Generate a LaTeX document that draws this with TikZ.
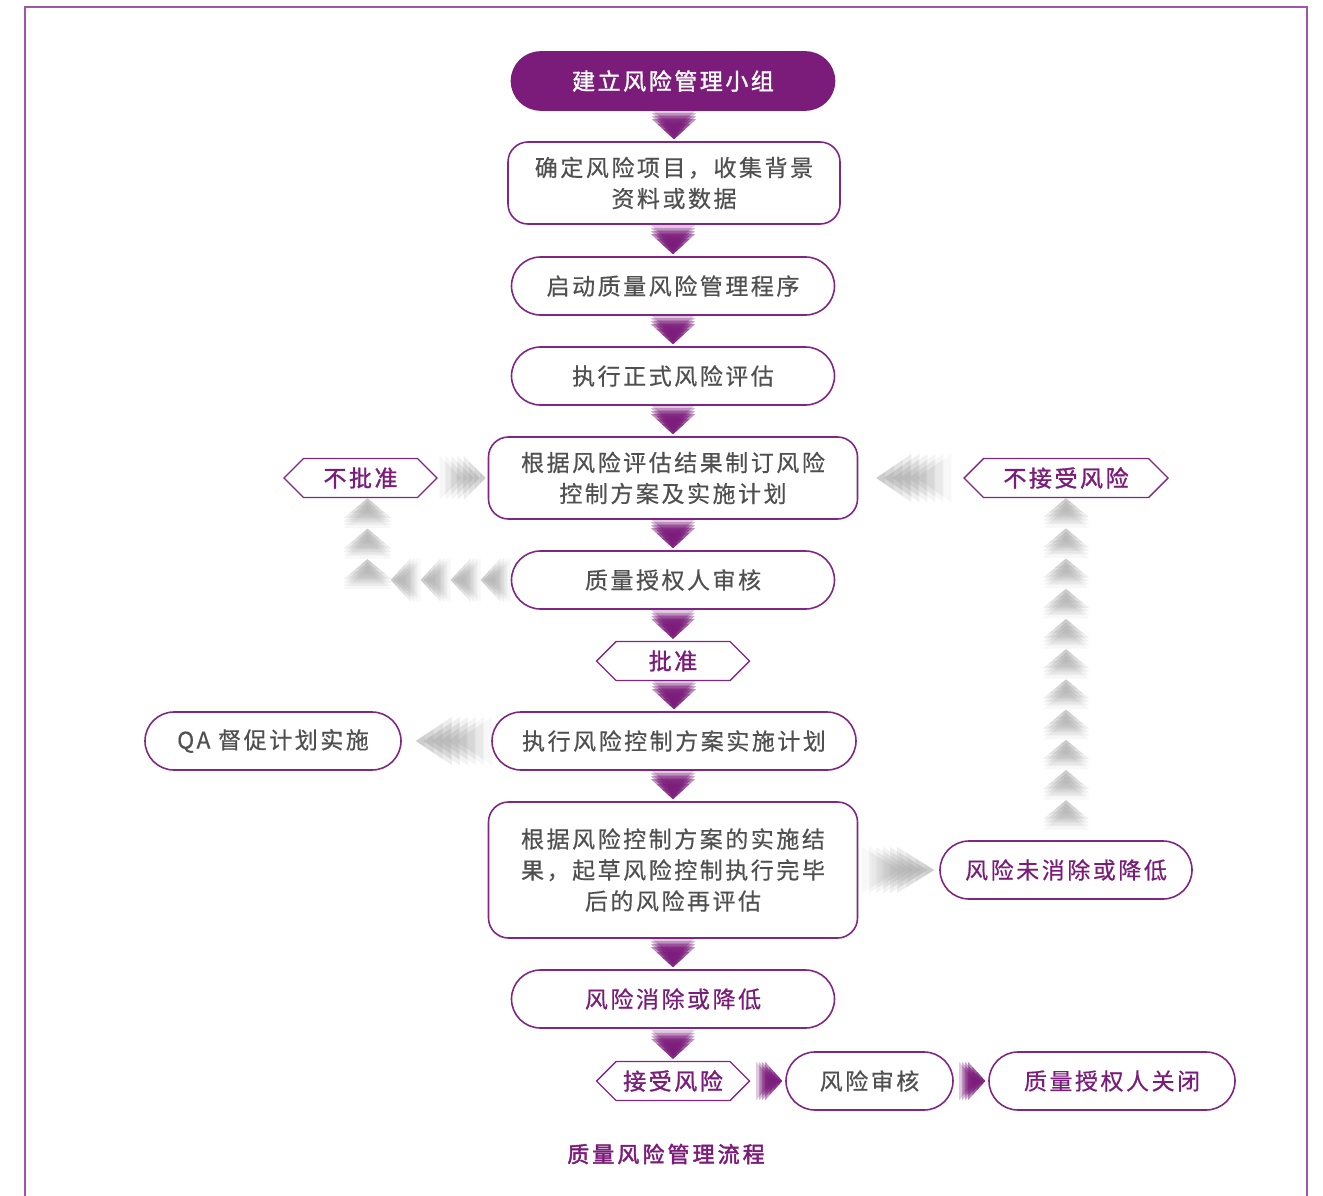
\documentclass[tikz,border=0pt]{standalone}
\usepackage{fontspec}
\setmainfont{Noto Sans CJK SC}
\newfontfamily\cjk[LetterSpace=11,FakeBold=0.5]{Noto Sans CJK SC}
\newfontfamily\cjkb[LetterSpace=11,FakeBold=1.3]{Noto Sans CJK SC}
\newfontfamily\cjkcap[LetterSpace=14,FakeBold=2]{Noto Sans CJK SC}
\usetikzlibrary{shapes.symbols,calc}
\definecolor{pur}{RGB}{123,28,123}
\definecolor{pline}{RGB}{128,38,133}
\definecolor{framec}{RGB}{160,85,170}
\definecolor{txt}{RGB}{80,80,80}
\definecolor{chg}{RGB}{175,175,175}

% #1 tip coordinate, #2 rotation (0 = pointing down), #3 colour, #4 copies,
% #5 shift between copies, #6 length, #7 half width, #8 front opacity
\newcommand\chev[8]{%
 \begin{scope}[shift={#1},rotate=#2]
  \foreach \k in {1,...,#4}{
   \pgfmathsetmacro\off{(#4-\k)*#5}
   \pgfmathsetmacro\al{#8*(0.3+0.7*\k/#4)}
   \foreach \f in {1,0.75,0.5,0.25}{
     \fill[#3,fill opacity=\al] (0,-\off) -- ({-#7*\f},{-\off-#6*\f}) -- ({#7*\f},{-\off-#6*\f}) -- cycle;
   }
  }
 \end{scope}}

\tikzset{
 lbl/.style={font=\cjk\fontsize{23}{31}\selectfont, align=center, inner sep=0pt},
 stadium/.style={lbl, draw=pline, line width=1.6pt, rounded corners=29pt, fill=white,
   minimum height=58pt, text=txt},
 rbox/.style={lbl, draw=pline, line width=1.6pt, rounded corners=20pt, fill=white, text=txt},
 hexa/.style={lbl, font=\cjkb\fontsize{23}{31}\selectfont, shape=signal, signal to=west and east,
   draw=pline, line width=1.4pt, fill=white, minimum height=39pt, text=pur},
}

\begin{document}
\begin{tikzpicture}[x=1pt,y=-1pt]
\useasboundingbox (0,0) rectangle (1323,1196);
\draw[framec, line width=2.5pt] (25,1196) -- (25,7) -- (1307,7) -- (1307,1196);

% main column
\node[stadium, fill=pur, draw=pur, text=white, font=\cjkb\fontsize{23}{31}\selectfont, minimum width=323pt] (n1) at (673,81) {建立风险管理小组};
\node[rbox, minimum width=332pt, minimum height=82pt] (n2) at (674,183) {确定风险项目，收集背景\\资料或数据};
\node[stadium, minimum width=323pt] (n3) at (673,286) {启动质量风险管理程序};
\node[stadium, minimum width=323pt] (n4) at (673,376) {执行正式风险评估};
\node[rbox, minimum width=369pt, minimum height=82pt] (n5) at (673,478) {根据风险评估结果制订风险\\控制方案及实施计划};
\node[stadium, minimum width=323pt] (n6) at (673,580) {质量授权人审核};
\node[hexa, minimum width=153pt] (ok) at (673,661) {批准};
\node[stadium, minimum width=364pt] (n8) at (674,741) {执行风险控制方案实施计划};
\node[rbox, minimum width=369pt, minimum height=136pt] (n9) at (673,870) {根据风险控制方案的实施结\\果，起草风险控制执行完毕\\后的风险再评估};
\node[stadium, minimum width=323pt, text=pur] (n10) at (673,999) {风险消除或降低};
\node[hexa, minimum width=153pt] (acc) at (673,1081) {接受风险};
\node[stadium, minimum width=167pt] (rev) at (869.5,1081) {风险审核};
\node[stadium, minimum width=246pt, text=pur] (cls) at (1112,1081) {质量授权人关闭};

% side nodes
\node[hexa, minimum width=153pt] (no) at (360.5,478) {不批准};
\node[hexa, minimum width=204pt] (rej) at (1066,478) {不接受风险};
\node[stadium, minimum width=256pt] (qa) at (273,741) {QA 督促计划实施};
\node[stadium, minimum width=252pt, text=pur] (nr) at (1066,870) {风险未消除或降低};

\node[font=\cjkcap\fontsize{22}{22}\selectfont, text=pur, inner sep=0pt] (cap) at (666,1154) {质量风险管理流程};

% purple down chevrons
\foreach \b in {n2,n3,n4,n5,n6,ok,n8,n9,n10,acc}{
  \coordinate (t) at ($(\b.north)+(0,-2)$);
  \chev{(t)}{0}{pur}{4}{3}{20}{22}{0.5}
}
% purple right chevrons
\foreach \b in {rev,cls}{
  \coordinate (t) at ($(\b.west)+(-3,0)$);
  \chev{(t)}{90}{pur}{4}{3}{17}{19}{0.5}
}

% grey chevrons
\coordinate (ta) at ($(n5.west)+(-2,0)$);
\chev{(ta)}{90}{chg}{5}{6}{22}{22}{0.22}
\coordinate (tb) at ($(n5.east)+(18,0)$);
\chev{(tb)}{-90}{chg}{6}{8}{35}{24}{0.22}
\coordinate (tc) at ($(qa.east)+(14,0)$);
\chev{(tc)}{-90}{chg}{6}{8}{36}{24}{0.22}
\coordinate (td) at ($(nr.west)+(-5,0)$);
\chev{(td)}{90}{chg}{6}{7}{37}{23}{0.22}
\foreach \i in {0,...,10}{
  \coordinate (t) at ($(rej.south)+(0,30.2*\i)$);
  \chev{(t)}{180}{chg}{4}{3.5}{19}{23}{0.22}
}
\foreach \i in {0,...,3}{
  \coordinate (t) at ($(n6.west)+(-120+30*\i,0)$);
  \chev{(t)}{-90}{chg}{4}{3.3}{20}{22}{0.22}
}
\foreach \i in {0,...,2}{
  \coordinate (t) at ($(no.south)+(7,30.5*\i)$);
  \chev{(t)}{180}{chg}{4}{3.3}{20}{24}{0.22}
}
\end{tikzpicture}
\end{document}
